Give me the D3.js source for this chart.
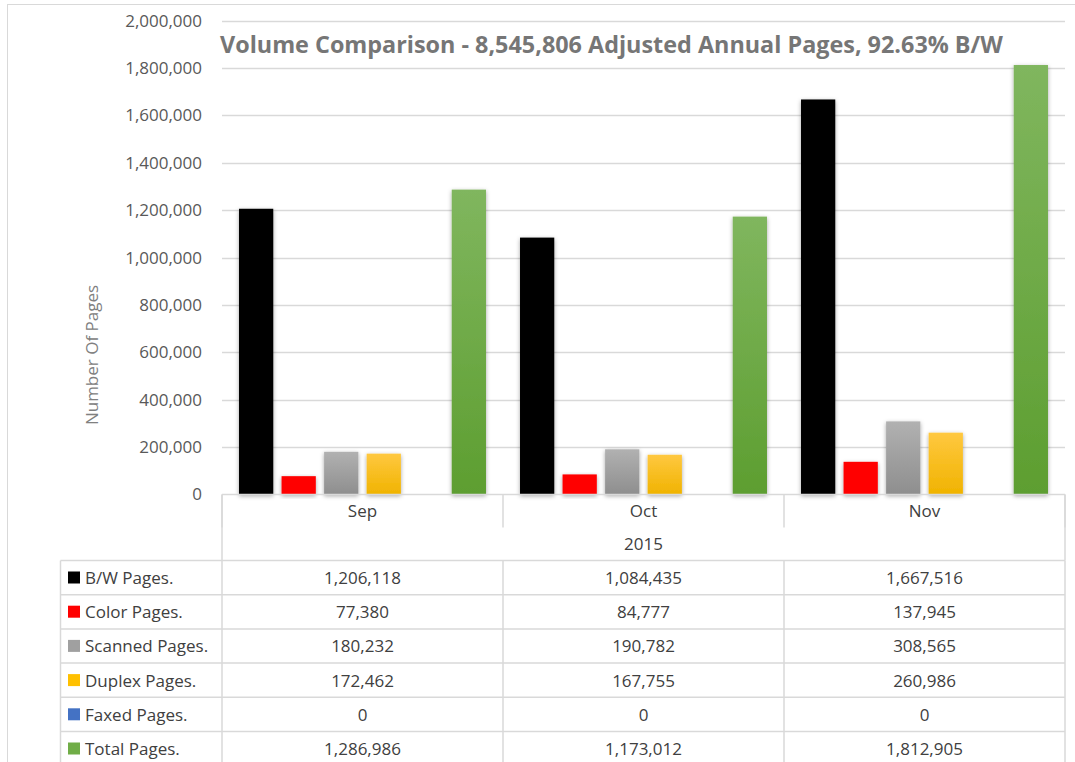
<!DOCTYPE html>
<html>
<head>
<meta charset="utf-8">
<script src="https://cdn.jsdelivr.net/npm/d3@7"></script>
<style>
  body { margin: 0; background: #fff; }
  svg text { font-family: "Open Sans", "Noto Sans", sans-serif; }
</style>
</head>
<body>
<div class="chart"></div>
<script>
// data
const months = ["Sep", "Oct", "Nov"];
const year = "2015";
const seriesNames = ["B/W Pages.", "Color Pages.", "Scanned Pages.", "Duplex Pages.", "Faxed Pages.", "Total Pages."];
const bwPages = [1206118, 1084435, 1667516];
const colorPages = [77380, 84777, 137945];
const scannedPages = [180232, 190782, 308565];
const duplexPages = [172462, 167755, 260986];
const faxedPages = [0, 0, 0];
const totalPages = [1286986, 1173012, 1812905];
const yTicks = [0, 200000, 400000, 600000, 800000, 1000000, 1200000, 1400000, 1600000, 1800000, 2000000];
const titleText = "Volume Comparison - 8,545,806 Adjusted Annual Pages, 92.63% B/W";

const seriesValues = [bwPages, colorPages, scannedPages, duplexPages, faxedPages, totalPages];
const seriesColors = ["#000000", "#ff0000", "url(#gGray)", "url(#gYellow)", "#4472c4", "url(#gGreen)"];
const keyColors = ["#000000", "#ff0000", "#a0a0a0", "#ffc000", "#4472c4", "#70ad47"];

const W = 1075, H = 762;
const plotL = 222, plotR = 1065, plotT = 20.7, plotB = 494.5;
const rowH = 34.2, labelRowTop = 494.5, dataTop = 560.5, legendL = 60.5;
const fs = "17px";
const fmt = d3.format(",");

var svg = d3.select(".chart").append("svg")
  .attr("width", W).attr("height", H);

var defs = svg.append("defs");
function grad(id, c1, c2) {
  var g = defs.append("linearGradient").attr("id", id)
    .attr("x1", 0).attr("y1", 0).attr("x2", 0).attr("y2", 1);
  g.append("stop").attr("offset", "0%").attr("stop-color", c1);
  g.append("stop").attr("offset", "100%").attr("stop-color", c2);
}
grad("gGray", "#b1b1b1", "#8e8e8e");
grad("gYellow", "#ffc840", "#f0b300");
grad("gGreen", "#80b65e", "#5d9e30");
var shadow = defs.append("filter").attr("id", "shadow")
  .attr("x", "-30%").attr("y", "-10%").attr("width", "160%").attr("height", "130%");
shadow.append("feDropShadow").attr("dx", 0).attr("dy", 1.5)
  .attr("stdDeviation", 2).attr("flood-color", "#000").attr("flood-opacity", 0.35);

// outer chart border
svg.append("rect").attr("x", 7.5).attr("y", 4.5).attr("width", 1090).attr("height", 800)
  .attr("fill", "none").attr("stroke", "#d9d9d9");

var y = d3.scaleLinear().domain([0, 2000000]).range([plotB, plotT]);
var x0 = d3.scaleBand().domain(months).range([plotL, plotR]);
var x1 = d3.scaleBand().domain(d3.range(seriesNames.length))
  .range([0, x0.bandwidth()]).paddingInner(0.195).paddingOuter(0.4);

// gridlines
svg.append("g").selectAll("line").data(yTicks.filter(d => d > 0)).enter().append("line")
  .attr("x1", plotL).attr("x2", plotR)
  .attr("y1", d => Math.round(y(d)) + 0.5).attr("y2", d => Math.round(y(d)) + 0.5)
  .attr("stroke", "#d9d9d9").attr("stroke-width", 1.3);

// y axis labels
var yAxis = d3.axisLeft(y).tickValues(yTicks).tickFormat(fmt).tickSize(0).tickPadding(0);
var ya = svg.append("g").attr("transform", "translate(202,0)").call(yAxis);
ya.select(".domain").remove();
ya.selectAll("text").attr("fill", "#595959").style("font-size", fs)
  .style("font-family", "\"Open Sans\", sans-serif");

svg.append("text")
  .attr("transform", "translate(98,355) rotate(-90)")
  .attr("text-anchor", "middle").attr("fill", "#808080")
  .style("font-size", "17px").text("Number Of Pages");

// bars
var groups = svg.append("g").selectAll("g").data(months).enter().append("g")
  .attr("transform", d => "translate(" + x0(d) + ",0)");
groups.selectAll("rect")
  .data((m, i) => seriesValues.map((s, k) => ({ k: k, v: s[i] })))
  .enter().append("rect")
  .attr("x", d => x1(d.k))
  .attr("width", x1.bandwidth())
  .attr("y", d => y(d.v))
  .attr("height", d => plotB - y(d.v))
  .attr("fill", d => seriesColors[d.k])
  .attr("filter", d => d.v > 0 ? "url(#shadow)" : null);

// data table
var tbl = svg.append("g");
var lineC = "#d9d9d9";
function hline(x1_, x2_, yy) {
  tbl.append("line").attr("x1", x1_).attr("x2", x2_).attr("y1", yy).attr("y2", yy)
    .attr("stroke", lineC).attr("stroke-width", 1.5);
}
function vline(xx, y1_, y2_) {
  tbl.append("line").attr("x1", xx).attr("x2", xx).attr("y1", y1_).attr("y2", y2_)
    .attr("stroke", lineC).attr("stroke-width", 1.5);
}
hline(plotL, plotR, labelRowTop);
var edges = months.map(m => x0(m)).concat([plotR]);
edges.forEach((e, i) => {
  vline(e, labelRowTop, labelRowTop + 33);
  vline(e, dataTop, H + 5);
});
vline(plotL, labelRowTop, dataTop);
vline(plotR, labelRowTop, dataTop);
vline(legendL, dataTop, H + 5);
seriesNames.forEach((s, i) => hline(legendL, plotR, dataTop + i * rowH));

var txtC = "#404040";
tbl.selectAll(".mlab").data(months).enter().append("text")
  .attr("x", d => x0(d) + x0.bandwidth() / 2).attr("y", labelRowTop + 22.5)
  .attr("text-anchor", "middle").attr("fill", txtC).style("font-size", fs).text(d => d);
tbl.append("text").attr("x", (plotL + plotR) / 2).attr("y", labelRowTop + 55.5)
  .attr("text-anchor", "middle").attr("fill", txtC).style("font-size", fs).text(year);

var rows = tbl.selectAll(".row").data(seriesNames).enter().append("g")
  .attr("transform", (d, i) => "translate(0," + (dataTop + i * rowH) + ")");
rows.append("rect").attr("x", 68).attr("y", 11).attr("width", 12).attr("height", 12)
  .attr("fill", (d, i) => keyColors[i]);
rows.append("text").attr("x", 85).attr("y", 23.5)
  .attr("fill", txtC).style("font-size", fs).text(d => d);
rows.each(function (d, i) {
  d3.select(this).selectAll(".val").data(seriesValues[i]).enter().append("text")
    .attr("x", (v, j) => x0(months[j]) + x0.bandwidth() / 2).attr("y", 23.5)
    .attr("text-anchor", "middle").attr("fill", txtC).style("font-size", fs)
    .text(v => fmt(v));
});

// title
var title = svg.append("text").attr("x", 220).attr("y", 53)
  .attr("fill", "#767676").style("font-weight", "bold").style("font-size", "20px")
  .text(titleText);
var tw = title.node().getComputedTextLength();
title.style("font-size", (20 * 783 / tw).toFixed(2) + "px");
</script>
</body>
</html>
